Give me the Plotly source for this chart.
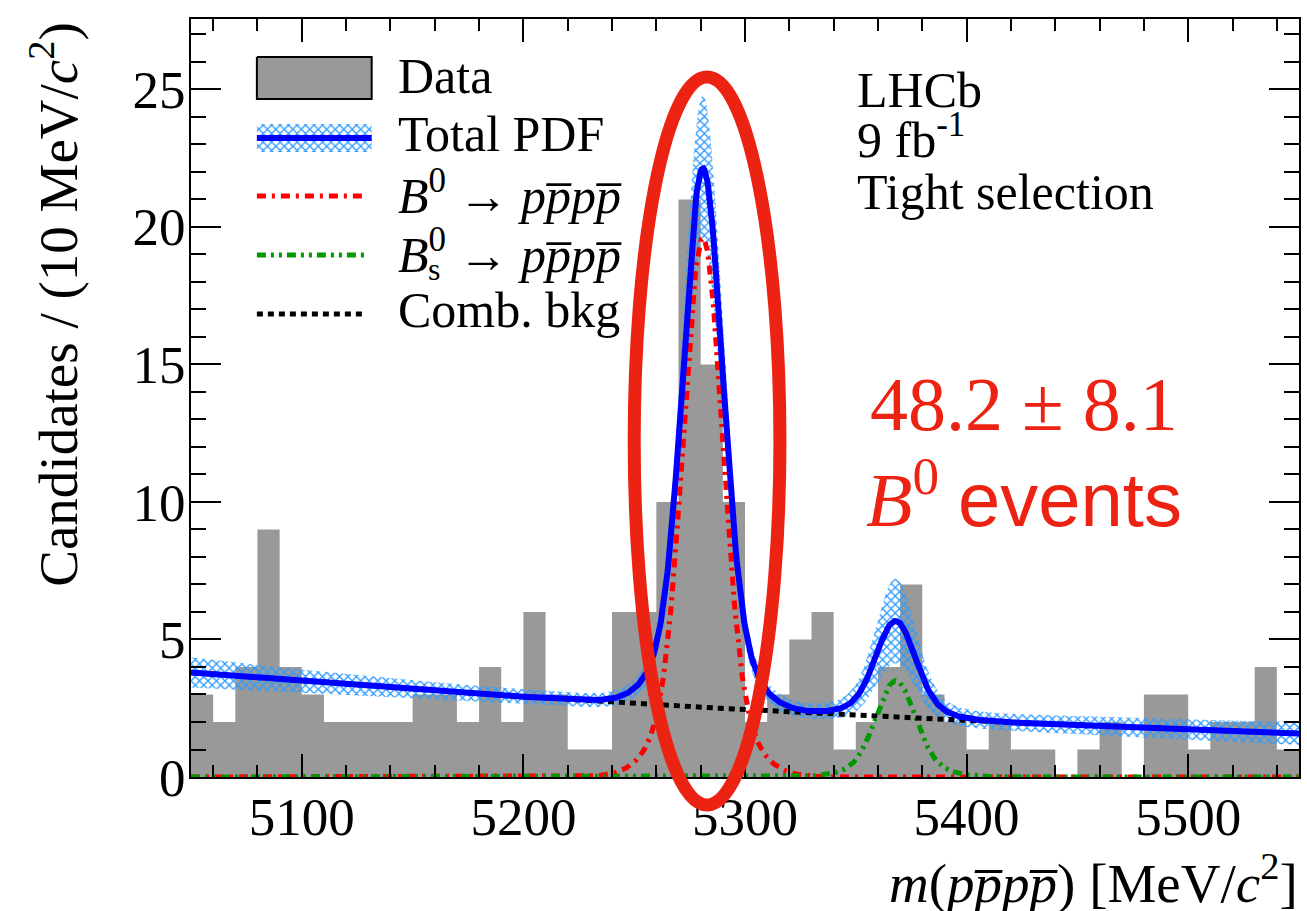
import numpy as np
import plotly.graph_objects as go

# ---------------- data ----------------
BIN_LO, BIN_HI, BIN_W = 5050.0, 5550.0, 10.0
counts = [3, 2, 4, 9, 4, 3, 2, 2, 2, 2,
          3, 3, 2, 4, 2, 6, 3, 1, 1, 6,
          6, 10, 21, 15, 10, 2, 3, 5, 6, 1,
          2, 4, 7, 3, 2, 1, 2, 1, 1, 0,
          1, 2, 0, 3, 3, 1, 2, 2, 4, 1]

# fit model parameters
n_b0 = 48.2            # B0 -> p pbar p pbar yield
n_b0_err = 8.1
n_bs = 8.6             # Bs -> p pbar p pbar yield
mu_b0, mu_bs = 5281.0, 5368.0
sig_core, sig_wide, f_core = 8.5, 16.0, 0.715
bkg_at_lo, bkg_slope = 3.80, 0.001755   # per 10 MeV at 5050, exponential slope

x_ticks = [5100, 5200, 5300, 5400, 5500]
y_ticks = [0, 5, 10, 15, 20, 25]

# ---------------- model curves ----------------
m = np.linspace(BIN_LO, BIN_HI, 1201)


def sig_shape(x, mu):
    g1 = np.exp(-0.5 * ((x - mu) / sig_core) ** 2) / (sig_core * np.sqrt(2 * np.pi))
    g2 = np.exp(-0.5 * ((x - mu) / sig_wide) ** 2) / (sig_wide * np.sqrt(2 * np.pi))
    return f_core * g1 + (1 - f_core) * g2


s_b0 = n_b0 * BIN_W * sig_shape(m, mu_b0)
s_bs = n_bs * BIN_W * sig_shape(m, mu_bs)
bkg = bkg_at_lo * np.exp(-bkg_slope * (m - BIN_LO))
total = s_b0 + s_bs + bkg

# uncertainty on the total PDF
d_bkg = np.where(m < 5250, 0.25 + 0.30 * ((m - 5250) / 200) ** 2,
                 0.25 + 0.17 * ((m - 5250) / 300) ** 2)
delta = d_bkg + 0.1225 * s_b0 + 0.36 * s_bs
band_lo, band_hi = total - delta, total + delta

# histogram as a filled step line
edges = BIN_LO + BIN_W * np.arange(len(counts) + 1)
step_y = list(counts) + [counts[-1]]

# ---------------- styling ----------------
SERIF = "Liberation Serif"
SANS = "Liberation Sans"
HL = "#EC2213"
BLUE = "#0000FF"
HATCH = "#2E9BFF"
RED_DASH = "9px,6px,3px,6px"
GREEN_DASH = "9px,5px,3px,5px,3px,5px"
BLACK_DASH = "6px,5px"

W, H = 1307, 911
L, R, T, B = 191, 6, 19, 134
PW, PH = W - L - R, H - T - B


def px(xp):
    return (xp - L) / PW


def py(yp):
    return (H - B - yp) / PH


fig = go.Figure()

fig.add_trace(go.Scatter(x=edges, y=step_y, mode="lines", line=dict(shape="hv", width=0, color="#999999"),
                         fill="tozeroy", fillcolor="#999999", hoverinfo="skip"))
fig.add_trace(go.Scatter(x=m, y=band_lo, mode="lines", line=dict(width=0), hoverinfo="skip"))
fig.add_trace(go.Scatter(x=m, y=band_hi, mode="lines", line=dict(width=0), fill="tonexty",
                         fillcolor="rgba(0,0,0,0)",
                         fillpattern=dict(shape="x", fgcolor=HATCH, bgcolor="rgba(0,0,0,0)",
                                          size=6, solidity=0.4, fillmode="replace"),
                         hoverinfo="skip"))
fig.add_trace(go.Scatter(x=m, y=s_b0, mode="lines", line=dict(color="#FF0000", width=5, dash=RED_DASH)))
fig.add_trace(go.Scatter(x=m, y=s_bs, mode="lines", line=dict(color="#009900", width=5, dash=GREEN_DASH)))
fig.add_trace(go.Scatter(x=m, y=bkg, mode="lines", line=dict(color="black", width=5, dash=BLACK_DASH)))
fig.add_trace(go.Scatter(x=m, y=total, mode="lines", line=dict(color=BLUE, width=6)))

# legend swatches on an overlay axis in plot-fraction units
lx0, lx1 = px(257), px(372)
fig.add_trace(go.Scatter(x=[lx0, lx1, lx1, lx0, lx0], y=[py(57), py(57), py(99), py(99), py(57)],
                         xaxis="x2", yaxis="y2", mode="lines", line=dict(color="black", width=2),
                         fill="toself", fillcolor="#999999", hoverinfo="skip"))
fig.add_trace(go.Scatter(x=[lx0, lx1, lx1, lx0, lx0], y=[py(124), py(124), py(152), py(152), py(124)],
                         xaxis="x2", yaxis="y2", mode="lines", line=dict(width=0), fill="toself",
                         fillcolor="rgba(0,0,0,0)",
                         fillpattern=dict(shape="x", fgcolor=HATCH, bgcolor="rgba(0,0,0,0)",
                                          size=6, solidity=0.4, fillmode="replace"),
                         hoverinfo="skip"))
fig.add_trace(go.Scatter(x=[lx0, lx1], y=[py(138), py(138)], xaxis="x2", yaxis="y2", mode="lines",
                         line=dict(color=BLUE, width=6), hoverinfo="skip"))
fig.add_trace(go.Scatter(x=[lx0, px(364)], y=[py(196), py(196)], xaxis="x2", yaxis="y2", mode="lines",
                         line=dict(color="#FF0000", width=5, dash=RED_DASH), hoverinfo="skip"))
fig.add_trace(go.Scatter(x=[lx0, px(367)], y=[py(255), py(255)], xaxis="x2", yaxis="y2", mode="lines",
                         line=dict(color="#009900", width=5, dash=GREEN_DASH), hoverinfo="skip"))
fig.add_trace(go.Scatter(x=[lx0, px(367)], y=[py(314), py(314)], xaxis="x2", yaxis="y2", mode="lines",
                         line=dict(color="black", width=5, dash=BLACK_DASH), hoverinfo="skip"))

pb = "<i>p\u0305</i>"
decay = "<i>p</i>" + pb + "<i>p</i>" + pb

ann = []


def text(xp, yp, s, size, xanchor="left", color="black", family=SERIF, yanchor="middle", angle=0):
    ann.append(dict(x=px(xp), y=py(yp), xref="paper", yref="paper", text=s, showarrow=False,
                    xanchor=xanchor, yanchor=yanchor, textangle=angle,
                    font=dict(family=family, size=size, color=color)))


# legend labels
text(396, 76, "Data", 50)
text(396, 134, "Total PDF", 50)
text(396, 192, "<i>B</i><sup>0</sup> \u2192 " + decay, 50)
text(396, 251, "<i>B</i><sup>0</sup> \u2192 " + decay, 50)
text(426, 269, "s", 32)
text(396, 310, "Comb. bkg", 50)

# experiment labels
text(856, 90, "LHCb", 50)
text(856, 136, "9 fb<sup>-1</sup>", 50)
text(856, 192, "Tight selection", 50)

# signal yield
text(1026, 404, f"{n_b0:.1f} \u00b1 {n_b0_err:.1f}", 76, xanchor="center", color=HL)
text(1026, 494, '<i>B</i><sup>0</sup> <span style="font-family:Liberation Sans">events</span>', 76,
     xanchor="center", color=HL)

# axis titles
text(1302, 879, "<i>m</i>(" + decay + ") [MeV/<i>c</i><sup>2</sup>]", 55, xanchor="right")
text(54, 20, "Candidates / (10 MeV/<i>c</i><sup>2</sup>)", 55, xanchor="center", yanchor="top", angle=-90)

shapes = [dict(type="circle", xref="paper", yref="paper", x0=px(635), x1=px(781), y0=py(805), y1=py(77),
               line=dict(color=HL, width=13), layer="above")]

axis_common = dict(showline=True, linecolor="black", linewidth=2, mirror="ticks", ticks="inside",
                   tickcolor="black", tickwidth=2, showgrid=False, zeroline=False,
                   tickfont=dict(family=SERIF, size=53, color="black"))

fig.update_layout(
    width=W, height=H, margin=dict(l=L, r=R, t=T, b=B),
    paper_bgcolor="white", plot_bgcolor="white", showlegend=False,
    xaxis=dict(range=[BIN_LO, BIN_HI], tickvals=x_ticks, ticklen=23,
               minor=dict(dtick=20, tick0=5000, ticklen=12, ticks="inside", tickcolor="black", tickwidth=2),
               ticklabelstandoff=-8, **axis_common),
    yaxis=dict(range=[0, 27.56], tickvals=y_ticks, ticklen=30,
               minor=dict(dtick=1, ticklen=15, ticks="inside", tickcolor="black", tickwidth=2),
               ticklabelstandoff=-7, **axis_common),
    xaxis2=dict(range=[0, 1], overlaying="x", visible=False, fixedrange=True),
    yaxis2=dict(range=[0, 1], overlaying="y", visible=False, fixedrange=True),
    annotations=ann, shapes=shapes,
)

fig.write_html("out.html")
